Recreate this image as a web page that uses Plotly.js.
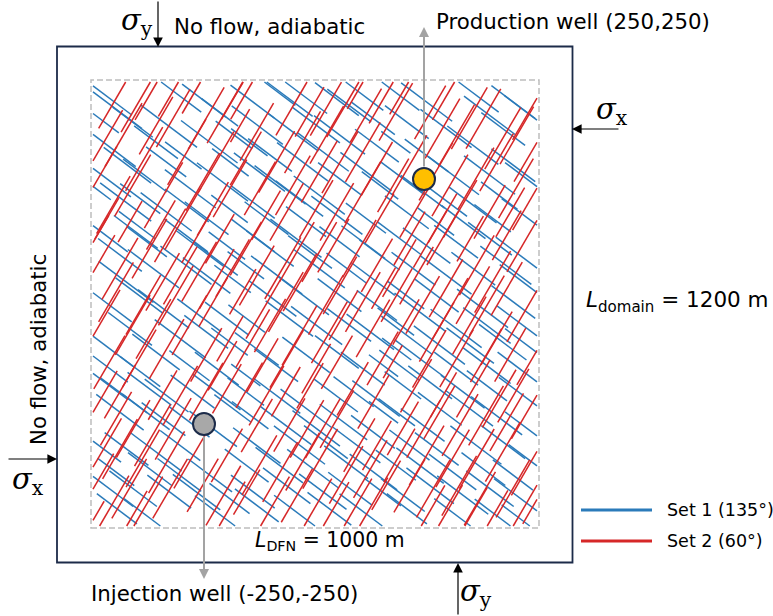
<!DOCTYPE html>
<html>
<head>
<meta charset="utf-8">
<script src="https://cdn.plot.ly/plotly-3.0.1.min.js"></script>
<style>html,body{margin:0;padding:0;background:#fff}</style>
</head>
<body>
<div id="chart" style="width:773px;height:616px"></div>
<script>
// Fracture set 1 (blue, 135°): [centre x (m), centre y (m), trace length (m)]
const set1Fractures = [
  [-468,417,130],[-449,392,140],[-485,372,100],[-412,366,110],[-330,358,155],[-306,420,120],[-250,410,120],[-238,326,155],[-182,340,100],[-455,309,120],[-470,250,130],[-424,278,130],[-384,257,120],[-336,285,110],[-281,230,140],[-208,244,140],[-190,284,100],[-428,203,140],[-395,210,110],[-336,183,140],[-289,196,120],[-244,170,120],[-192,189,100],[-495,230,80],[-359,325,120],[-297,298,100],[-402,156,100],[-214,386,100],
  [-140,408,120],[-92,434,120],[-57,414,130],[-24,420,130],[-129,360,140],[-147,325,100],[-48,346,140],[5,360,130],[52,413,120],[80,400,120],[112,421,110],[134,374,120],[58,340,140],[143,318,120],[21,305,140],[-26,285,140],[-100,299,120],[-124,264,140],[-77,238,140],[-139,203,120],[-108,170,120],[-33,210,130],[12,217,140],[59,250,120],[118,265,140],[150,237,100],[52,176,140],[118,170,110],[-18,163,110],
  [194,421,110],[256,407,140],[211,366,120],[300,353,140],[370,420,120],[399,380,140],[453,407,120],[482,387,120],[430,352,120],[361,319,140],[256,298,120],[202,251,120],[317,257,140],[399,258,140],[453,278,120],[484,250,120],[247,224,120],[294,210,130],[361,197,130],[421,216,100],[211,182,120],[277,163,100],[468,182,100],[340,162,120],[186,325,80],[406,170,100],
  [-473,135,120],[-441,95,120],[-405,142,120],[-380,122,110],[-291,135,120],[-259,108,130],[-223,87,120],[-198,114,100],[-427,40,150],[-365,67,140],[-291,74,140],[-244,53,130],[-185,46,100],[-464,-8,120],[-397,12,130],[-342,-15,140],[-261,-28,120],[-198,-35,120],[-465,-96,130],[-418,-56,120],[-359,-103,130],[-304,-76,140],[-245,-62,120],[-192,-82,100],[-473,-131,120],[-395,-143,110],[-283,-131,110],[-221,-137,120],
  [-139,135,120],[-100,108,130],[-41,129,140],[-9,101,120],[58,122,110],[112,121,120],[149,95,110],[-155,74,100],[-85,54,140],[12,67,140],[74,68,110],[134,46,120],[-94,6,130],[-24,12,140],[58,13,120],[143,-8,110],[-153,-35,100],[-56,-35,130],[6,-49,140],[80,-48,120],[128,-62,130],[-130,-97,120],[-86,-130,120],[-18,-109,130],[52,-103,120],[111,-137,120],[158,-131,80],[-155,-150,80],
  [194,129,120],[256,114,130],[323,122,120],[400,128,120],[467,95,130],[226,67,120],[300,54,140],[362,67,120],[436,74,140],[476,39,130],[209,13,100],[279,12,120],[383,-14,140],[453,-1,120],[186,-41,100],[241,-22,140],[323,-55,140],[393,-49,130],[474,-48,140],[211,-69,140],[285,-89,140],[355,-90,130],[429,-83,130],[484,-89,120],[194,-130,110],[241,-117,140],[323,-137,120],[393,-131,130],[467,-137,120],[188,-97,80],
  [-465,-172,100],[-433,-191,130],[-374,-178,120],[-335,-192,120],[-276,-184,120],[-221,-185,130],[-185,-218,100],[-441,-226,130],[-382,-225,130],[-342,-240,120],[-283,-246,110],[-229,-260,130],[-480,-300,100],[-426,-301,120],[-359,-307,140],[-304,-294,110],[-450,-348,100],[-373,-342,120],[-306,-354,120],[-236,-355,120],[-465,-382,130],[-411,-382,130],[-329,-388,120],[-267,-389,130],[-192,-402,110],[-448,-423,110],[-382,-436,120],[-221,-430,120],
  [-155,-184,100],[-85,-192,130],[-18,-218,140],[50,-192,120],[90,-184,110],[141,-198,130],[158,-226,80],[-145,-232,100],[-64,-253,140],[5,-259,130],[67,-246,130],[134,-266,120],[-130,-294,130],[-33,-293,140],[27,-287,120],[97,-293,130],[-153,-335,120],[-79,-334,130],[-3,-341,140],[73,-328,120],[135,-348,130],[-139,-388,120],[-62,-376,130],[20,-388,130],[82,-382,120],[156,-389,100],[-130,-416,120],[-41,-429,120],[35,-423,120],[112,-429,130],
  [202,-171,100],[264,-165,120],[338,-184,120],[393,-172,110],[474,-191,130],[188,-226,100],[247,-252,120],[286,-219,120],[353,-218,130],[415,-233,140],[484,-259,120],[217,-293,110],[279,-301,120],[368,-293,140],[430,-287,120],[484,-320,100],[186,-334,110],[241,-335,130],[315,-348,130],[385,-342,120],[452,-354,110],[202,-395,120],[264,-376,130],[338,-395,140],[400,-382,130],[459,-395,120],[211,-423,110],[323,-436,120],[415,-437,120],[468,-443,100]
];

// Fracture set 2 (red, 60°): [centre x (m), centre y (m), trace length (m)]
const set2Fractures = [
  [-454,408,130],[-403,400,130],[-473,332,140],[-433,340,155],[-386,291,155],[-342,217,160],[-298,169,150],[-289,305,160],[-245,374,150],[-202,386,150],[-183,414,100],[-223,284,150],[-191,231,140],[-230,189,130],[-456,197,140],[-412,237,150],[-486,258,140],[-359,359,140],[-320,374,140],[-321,428,120],[-267,434,120],[-348,156,120],[-418,163,100],[-253,244,140],[-471,169,100],[-374,421,120],
  [-162,414,100],[-47,400,145],[-10,387,120],[27,393,130],[67,394,140],[118,380,130],[158,414,120],[-130,346,140],[-155,292,130],[-85,285,150],[-26,325,150],[12,265,150],[59,284,150],[111,305,145],[143,271,130],[-123,231,130],[-48,237,145],[-62,183,140],[5,189,140],[52,183,140],[111,223,150],[149,170,120],[-109,176,120],[29,340,140],[103,435,100],[-168,359,80],
  [186,387,140],[264,386,130],[292,353,145],[324,339,150],[353,374,150],[385,373,145],[429,333,150],[461,339,140],[490,299,130],[484,380,120],[217,278,145],[180,237,130],[277,265,140],[309,237,150],[368,251,150],[415,284,140],[459,231,145],[484,196,120],[233,189,140],[292,170,120],[332,189,140],[399,183,130],[446,182,120],[202,428,110],[302,421,120],
  [-488,81,130],[-441,67,150],[-374,108,145],[-327,135,130],[-268,129,120],[-214,128,120],[-185,68,140],[-221,46,145],[-261,61,145],[-304,53,140],[-344,40,140],[-450,19,145],[-388,-7,145],[-314,12,145],[-479,-35,140],[-412,-48,145],[-365,-56,145],[-283,-48,145],[-229,-1,120],[-245,-109,130],[-335,-97,145],[-397,-116,140],[-465,-124,130],[-208,-131,120],[-191,-76,110],[-488,142,80],
  [-155,108,130],[-130,53,145],[-162,20,110],[-71,68,150],[-39,101,145],[12,101,145],[44,114,130],[103,108,140],[143,74,130],[-115,-15,145],[-64,-1,145],[-32,39,140],[27,-7,145],[59,33,140],[111,-1,145],[158,27,100],[-139,-75,140],[-100,-49,130],[-33,-69,145],[35,-63,150],[67,-28,120],[134,-55,140],[-117,-130,130],[-62,-117,140],[5,-137,120],[52,-124,130],[156,-116,130],
  [217,129,130],[264,128,140],[292,129,130],[355,128,110],[438,135,120],[474,115,130],[194,68,140],[233,53,140],[300,27,140],[370,74,145],[406,40,150],[438,26,130],[188,13,130],[247,-7,140],[309,-15,150],[361,13,140],[393,-8,145],[474,-28,130],[209,-42,110],[279,-62,145],[353,-49,140],[415,-75,130],[262,-117,140],[324,-116,140],[391,-110,130],[446,-109,130],[491,-124,110],[179,-123,80],
  [-480,-192,120],[-441,-184,130],[-344,-191,120],[-304,-192,145],[-245,-184,140],[-198,-178,120],[-450,-239,130],[-411,-260,140],[-367,-273,150],[-320,-260,150],[-473,-293,130],[-441,-301,145],[-389,-320,140],[-335,-328,150],[-283,-327,130],[-198,-314,130],[-488,-361,120],[-420,-382,145],[-456,-410,130],[-382,-416,140],[-327,-382,145],[-253,-375,130],[-206,-396,145],[-192,-422,130],[-412,-437,120],[-496,-437,70],
  [-147,-171,110],[-108,-192,145],[-64,-184,120],[-9,-172,110],[88,-178,130],[135,-205,130],[-130,-253,130],[-56,-252,130],[-16,-260,140],[20,-259,145],[52,-240,140],[103,-293,130],[143,-294,120],[-124,-334,145],[-77,-348,145],[-26,-327,140],[14,-321,145],[73,-354,140],[128,-342,140],[164,-375,120],[-153,-389,110],[-94,-416,140],[-39,-396,130],[5,-416,130],[44,-423,130],[96,-416,130],[135,-410,120],
  [232,-172,130],[294,-191,110],[362,-178,140],[421,-198,140],[453,-192,130],[202,-259,130],[249,-260,140],[285,-226,130],[332,-252,150],[391,-233,145],[438,-246,140],[484,-226,130],[194,-314,130],[256,-314,145],[315,-320,140],[370,-321,145],[429,-307,145],[484,-341,130],[217,-376,130],[271,-382,140],[330,-376,145],[377,-402,130],[452,-382,140],[484,-410,120],[262,-430,130],[302,-429,130],[361,-430,120],[408,-436,120],[499,-416,90]
];

// Wells
const wellNames = ['Production well', 'Injection well'];
const wellX = [250, -250];
const wellY = [250, -250];

// Set labels
const setLabels = ['Set 1 (135°)', 'Set 2 (60°)'];

// ---- drawing -------------------------------------------------------------
const W = 773, H = 616;
const ORIGIN = [314, 301.5];        // pixel position of (0,0)
const SX = 0.44, SY = 0.49;         // pixels per metre
const dataX = p => (p - ORIGIN[0]) / SX;
const dataY = p => (ORIGIN[1] - p) / SY;
const paperX = p => p / W;
const paperY = p => 1 - p / H;

const SET1_ANGLE = -34;  // drawing direction of set 1 traces (deg)
const SET2_ANGLE = 57;   // drawing direction of set 2 traces (deg)
const BLUE = '#2b7bba', RED = '#d62728', NAVY = '#1c2b49';

// DFN region (dashed) in pixels, fractures are clipped to it
const DFN_PX = {l: 91, r: 539, t: 80, b: 528};
const CLIP = {x0: dataX(DFN_PX.l + 2), x1: dataX(DFN_PX.r - 2), y0: dataY(DFN_PX.b - 2), y1: dataY(DFN_PX.t + 2)};

function clipSegment(x0, y0, x1, y1) {
  let t0 = 0, t1 = 1;
  const dx = x1 - x0, dy = y1 - y0;
  const p = [-dx, dx, -dy, dy];
  const q = [x0 - CLIP.x0, CLIP.x1 - x0, y0 - CLIP.y0, CLIP.y1 - y0];
  for (let k = 0; k < 4; k++) {
    if (p[k] === 0) { if (q[k] < 0) return null; continue; }
    const r = q[k] / p[k];
    if (p[k] < 0) { if (r > t1) return null; if (r > t0) t0 = r; }
    else { if (r < t0) return null; if (r < t1) t1 = r; }
  }
  return [x0 + t0 * dx, y0 + t0 * dy, x0 + t1 * dx, y0 + t1 * dy];
}

function fractureLines(list, angleDeg) {
  const a = angleDeg * Math.PI / 180, ux = Math.cos(a), uy = Math.sin(a);
  const xs = [], ys = [];
  list.forEach(([cx, cy, len]) => {
    const h = len / 2;
    const s = clipSegment(cx - h * ux, cy - h * uy, cx + h * ux, cy + h * uy);
    if (!s) return;
    xs.push(s[0], s[2], null);
    ys.push(s[1], s[3], null);
  });
  return {xs, ys};
}

const f1 = fractureLines(set1Fractures, SET1_ANGLE);
const f2 = fractureLines(set2Fractures, SET2_ANGLE);

const traces = [
  {type: 'scatter', mode: 'lines', x: f1.xs, y: f1.ys, name: setLabels[0],
   line: {color: BLUE, width: 1.5}, hoverinfo: 'skip', connectgaps: false},
  {type: 'scatter', mode: 'lines', x: f2.xs, y: f2.ys, name: setLabels[1],
   line: {color: RED, width: 1.5}, hoverinfo: 'skip', connectgaps: false},
  {type: 'scatter', mode: 'markers', x: wellX, y: wellY, text: wellNames,
   marker: {size: 22, color: ['#ffbf00', '#a8a8a8'], line: {color: NAVY, width: 2}},
   hoverinfo: 'text'}
];

const SANS = 'DejaVu Sans, Arial, sans-serif';
const SERIF = 'DejaVu Serif, serif';

function label(text, px, py, size, opts = {}) {
  return Object.assign({
    text, x: paperX(px), y: paperY(py), xref: 'paper', yref: 'paper',
    showarrow: false, xanchor: 'left', yanchor: 'middle',
    font: {family: SANS, size: size, color: '#000'}
  }, opts);
}
function sigma(sub, px, py) {
  return label('<i>σ</i><sub>' + sub + '</sub>', px, py, 29,
    {xanchor: 'center', font: {family: SERIF, size: 29, color: '#000'}});
}
function stressArrow(hx, hy, ax, ay) {
  return {text: '', x: paperX(hx), y: paperY(hy), xref: 'paper', yref: 'paper',
    showarrow: true, ax, ay, arrowhead: 2, arrowsize: 1.6, arrowwidth: 1.2, arrowcolor: '#000'};
}
function wellArrow(i, headPy) {
  return {text: '', x: wellX[i], y: dataY(headPy), xref: 'x', yref: 'y',
    ax: wellX[i], ay: wellY[i], axref: 'x', ayref: 'y', showarrow: true,
    startstandoff: 11, arrowhead: 2, arrowsize: 1, arrowwidth: 2, arrowcolor: '#a3a3a3'};
}

const annotations = [
  wellArrow(0, 27),
  wellArrow(1, 579),
  stressArrow(158, 47, 0, -47),
  stressArrow(572, 129, 48, 0),
  stressArrow(57, 459, -50, 0),
  stressArrow(458, 563, 0, 53),
  sigma('y', 137, 22),
  sigma('x', 612, 111),
  sigma('x', 28, 481),
  sigma('y', 476, 593),
  label('No flow, adiabatic', 172, 27, 21.3),
  label('No flow, adiabatic', 38, 350, 21.3, {xanchor: 'center', textangle: -90}),
  label(wellNames[0] + ' (' + wellX[0] + ',' + wellY[0] + ')', 434, 22, 21.3),
  label(wellNames[1] + ' (' + wellX[1] + ',' + wellY[1] + ')', 89, 593, 21.3),
  label('<i>L</i><sub>domain</sub> = 1200 m', 584, 301, 21.5),
  label('<i>L</i><sub>DFN</sub> = 1000 m', 330, 541, 20.4, {xanchor: 'center'}),
  label(setLabels[0], 665, 510, 17.5),
  label(setLabels[1], 665, 541, 17.5)
];

const shapes = [
  {type: 'rect', xref: 'paper', yref: 'paper', layer: 'below',
   x0: paperX(57), x1: paperX(572.5), y0: paperY(562.5), y1: paperY(46.5),
   line: {color: NAVY, width: 1.8}},
  {type: 'rect', xref: 'paper', yref: 'paper', layer: 'below',
   x0: paperX(DFN_PX.l), x1: paperX(DFN_PX.r), y0: paperY(DFN_PX.b), y1: paperY(DFN_PX.t),
   line: {color: '#bdbdbd', width: 1.5, dash: '6px,3px'}},
  {type: 'line', xref: 'paper', yref: 'paper',
   x0: paperX(581), x1: paperX(652), y0: paperY(510), y1: paperY(510),
   line: {color: BLUE, width: 3}},
  {type: 'line', xref: 'paper', yref: 'paper',
   x0: paperX(581), x1: paperX(652), y0: paperY(541), y1: paperY(541),
   line: {color: RED, width: 3}}
];

const layout = {
  width: W, height: H,
  margin: {l: 0, r: 0, t: 0, b: 0, pad: 0},
  paper_bgcolor: '#fff', plot_bgcolor: '#fff',
  showlegend: false,
  xaxis: {range: [dataX(0), dataX(W)], visible: false, fixedrange: true},
  yaxis: {range: [dataY(H), dataY(0)], visible: false, fixedrange: true},
  annotations, shapes
};

Plotly.newPlot('chart', traces, layout, {displayModeBar: false, staticPlot: true});
</script>
</body>
</html>
